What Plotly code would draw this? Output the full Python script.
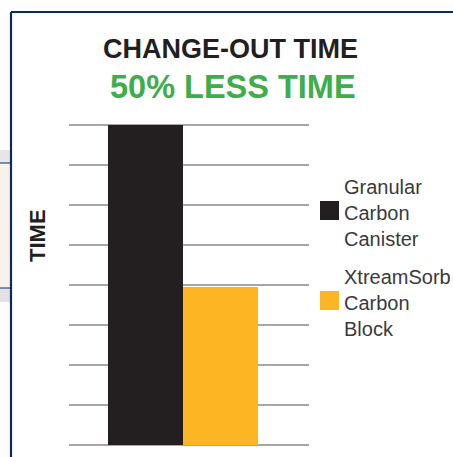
import plotly.graph_objects as go

categories = ["Granular Carbon Canister", "XtreamSorb Carbon Block"]
legend_labels = ["Granular<br>Carbon<br>Canister", "XtreamSorb<br>Carbon<br>Block"]
values = [8, 3.95]
colors = ["#231f20", "#fdb524"]

W, H = 453, 457
L, R, T, B = 69, 309, 115, 445  # plot area in pixels
UNIT = 40.0  # pixels per y unit


def px(x):
    return (x - L) / (R - L)


def py(y):
    return (B - y) / (B - T)


fig = go.Figure()
for cat, val, col in zip(categories, values, colors):
    fig.add_trace(go.Bar(x=[cat], y=[val], marker=dict(color=col, line=dict(width=0)),
                         width=1, showlegend=False, name=cat))

font = "Liberation Sans, Arial, Helvetica, sans-serif"
navy = "#0c2a5c"
shapes = [
    dict(type="line", xref="paper", yref="paper", x0=px(11), x1=px(460), y0=py(12), y1=py(12),
         line=dict(color=navy, width=2.2)),
    dict(type="line", xref="paper", yref="paper", x0=px(11), x1=px(11), y0=py(12), y1=py(470),
         line=dict(color=navy, width=2.2)),
    dict(type="rect", xref="paper", yref="paper", x0=px(-5), x1=px(10), y0=py(150), y1=py(163),
         fillcolor="#e6e6e8", line=dict(width=0), layer="below"),
    dict(type="rect", xref="paper", yref="paper", x0=px(-5), x1=px(10), y0=py(163), y1=py(288),
         fillcolor="#f8f2ea", line=dict(width=0), layer="below"),
    dict(type="rect", xref="paper", yref="paper", x0=px(-5), x1=px(10), y0=py(288), y1=py(302),
         fillcolor="#e2e2e4", line=dict(width=0), layer="below"),
    dict(type="line", xref="paper", yref="paper", x0=px(-5), x1=px(11), y0=py(163), y1=py(163),
         line=dict(color=navy, width=1)),
    dict(type="line", xref="paper", yref="paper", x0=px(-5), x1=px(11), y0=py(288), y1=py(288),
         line=dict(color=navy, width=1)),
]

sq = [(201, 220), (291, 310)]
for (y0, y1), col in zip(sq, colors):
    shapes.append(dict(type="rect", xref="paper", yref="paper", x0=px(320), x1=px(339),
                       y0=py(y0), y1=py(y1), fillcolor=col, line=dict(width=0)))

annotations = [
    dict(text="<b>CHANGE-OUT TIME</b>", x=px(230), y=py(49), xref="paper", yref="paper",
         showarrow=False, xanchor="center", yanchor="middle",
         font=dict(family=font, size=27, color="#231f20")),
    dict(text="<b>50% LESS TIME</b>", x=px(233), y=py(87), xref="paper", yref="paper",
         showarrow=False, xanchor="center", yanchor="middle",
         font=dict(family=font, size=32.5, color="#3dae4a")),
    dict(text="<b>TIME</b>", x=px(37), y=py(236), xref="paper", yref="paper",
         showarrow=False, xanchor="center", yanchor="middle", textangle=-90,
         font=dict(family=font, size=22, color="#231f20")),
]
label_y = [213, 303]
for lab, yc in zip(legend_labels, label_y):
    annotations.append(dict(text=lab, x=px(342), y=py(yc), xref="paper", yref="paper",
                            showarrow=False, xanchor="left", yanchor="middle", align="left",
                            font=dict(family=font, size=20, color="#3a3a3a")))

fig.update_layout(
    width=W, height=H,
    margin=dict(l=L, r=W - R, t=T, b=H - B, pad=0),
    paper_bgcolor="white", plot_bgcolor="white",
    barmode="overlay", bargap=0,
    xaxis=dict(range=[-1.02, 2.18], showticklabels=False, showgrid=False, zeroline=False,
               showline=False, ticks="", fixedrange=True),
    yaxis=dict(range=[0, (B - T) / UNIT], tickvals=list(range(0, 9)), showticklabels=False,
               showgrid=True, gridcolor="#aaa5a2", gridwidth=1.6, zeroline=True,
               zerolinecolor="#aaa5a2", zerolinewidth=1.6, showline=False, ticks=""),
    shapes=shapes,
    annotations=annotations,
    showlegend=False,
)

fig.write_html("out.html", config={"displayModeBar": False},
               post_script="document.body.style.margin='0';document.body.style.overflow='hidden';")
